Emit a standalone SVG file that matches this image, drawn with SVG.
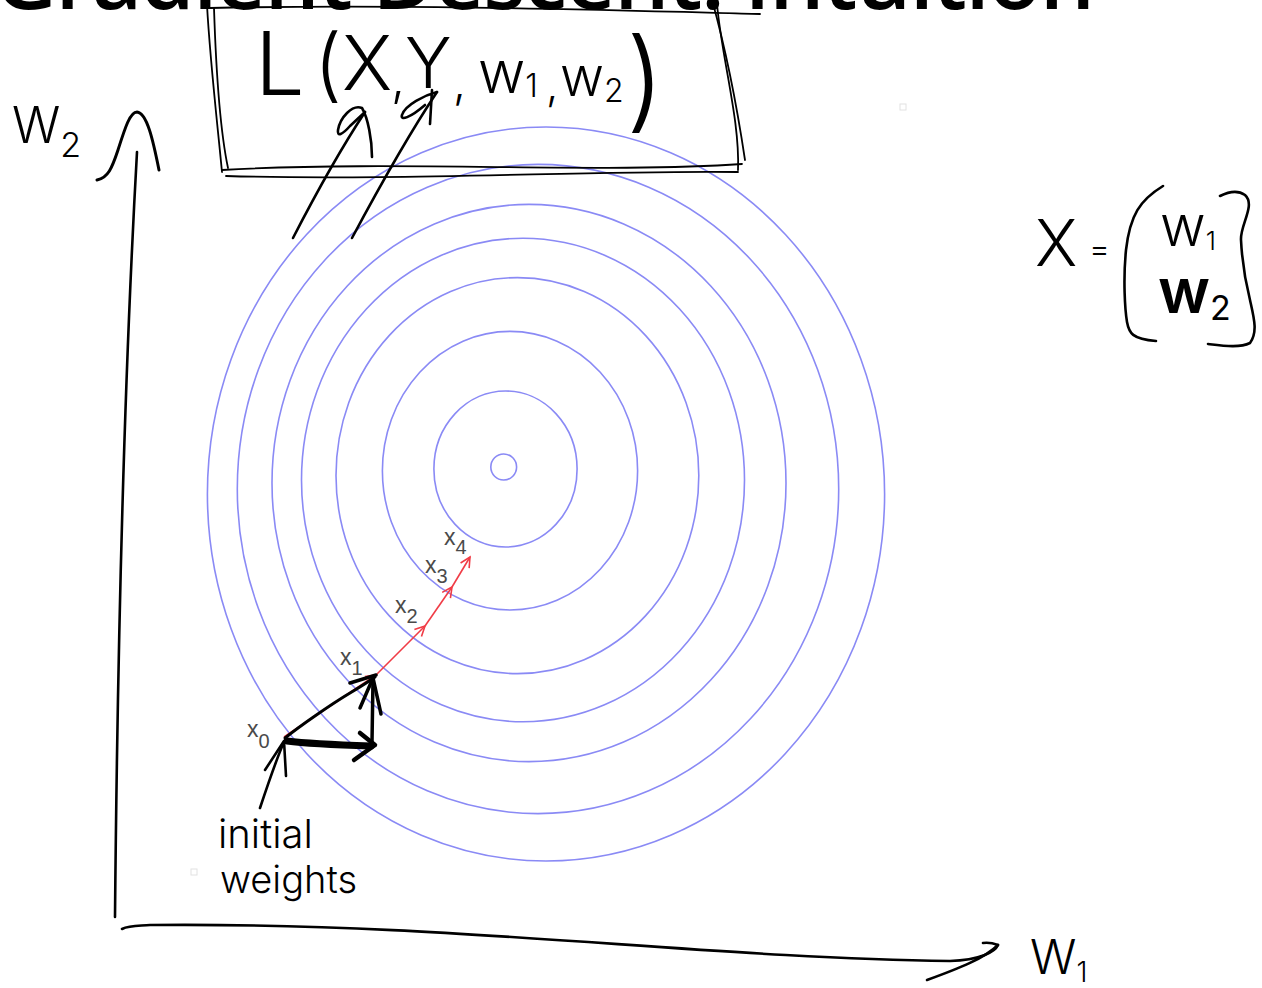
<svg xmlns="http://www.w3.org/2000/svg" width="1262" height="988" viewBox="0 0 1262 988">
<style>
.contour{fill:none;stroke:#8a8af5;stroke-width:1.6}
.ink{fill:none;stroke:#000;stroke-width:2.6;stroke-linecap:round;stroke-linejoin:round}
.thin{fill:none;stroke:#000;stroke-width:1.8;stroke-linecap:round;stroke-linejoin:round}
.hand{font-family:Inter,"Liberation Sans",sans-serif;font-weight:300;fill:#000}
.lbl{font-family:"Liberation Sans",Arial,sans-serif;fill:#4a4a4a}
.red{fill:none;stroke:#f03c46;stroke-width:1.6}
.dot{fill:none;stroke:#e2e2e2;stroke-width:1}
.title{font-family:"Open Sans","Noto Sans",sans-serif;font-weight:600;fill:#000}
</style>
<defs>
<marker id="rh" markerUnits="userSpaceOnUse" markerWidth="14" markerHeight="14" refX="11" refY="6" orient="auto">
<path d="M1,1 L11,6 L1,11" fill="none" stroke="#f03c46" stroke-width="1.6"/>
</marker>
</defs>
<rect width="1262" height="988" fill="#fff"/>

<g id="title">
<text class="title" x="-6" y="9" font-size="87" textLength="1101">Gradient Descent: Intuition</text>
</g>

<g id="contours">
<ellipse class="contour" cx="503.7" cy="467" rx="12.9" ry="13"/>
<ellipse class="contour" cx="505.5" cy="469" rx="71.6" ry="78"/>
<ellipse class="contour" cx="510" cy="470.7" rx="127.6" ry="139.3"/>
<ellipse class="contour" cx="517.4" cy="475.6" rx="181.4" ry="198"/>
<ellipse class="contour" cx="523" cy="480" rx="221.5" ry="241.8"/>
<ellipse class="contour" cx="529" cy="483" rx="257" ry="278.6"/>
<ellipse class="contour" cx="538" cy="489" rx="300.7" ry="324.6"/>
<ellipse class="contour" cx="546" cy="494" rx="338.6" ry="367"/>
</g>

<g id="loss-box">
<path class="thin" d="M207 5 C210 60,217 120,222 172"/>
<path class="thin" d="M214 8 C216 70,220 130,228 168"/>
<path class="thin" d="M210 8 C400 4,600 10,760 14"/>
<path class="thin" d="M222 170 C400 160,600 174,742 164"/>
<path class="thin" d="M226 176 C400 181,600 170,738 172"/>
<path class="thin" d="M712 0 C726 50,736 100,745 160"/>
<path class="thin" d="M717 4 C722 60,740 120,738 170"/>
<text class="hand" x="255" y="95" font-size="88">L</text>
<text class="hand" x="314" y="92" font-size="80">(</text>
<text class="hand" x="342" y="90" font-size="76">X</text>
<text class="hand" x="391" y="96" font-size="50">,</text>
<text class="hand" x="405" y="88" font-size="70">Y</text>
<text class="hand" x="453" y="98" font-size="46">,</text>
<text class="hand" x="478" y="93" font-size="58">w<tspan font-size="32" dy="4">1</tspan></text>
<text class="hand" x="546" y="100" font-size="44">,</text>
<text class="hand" x="560" y="96" font-size="54">w<tspan font-size="32" dy="6">2</tspan></text>
<text class="hand" x="626" y="118" font-size="110">)</text>
</g>

<g id="box-pointers">
<path class="ink" d="M293 238 C310 205,340 150,365 112"/>
<path class="ink" d="M372 157 C372 140,368 118,362 108 C352 104,340 118,338 130 C337 137,342 135,350 126 L365 112"/>
<path class="ink" d="M352 238 C375 195,405 140,437 92"/>
<path class="ink" d="M437 92 C425 95,405 105,402 115 C400 121,410 118,425 105 M432 90 L430 124"/>
</g>

<g id="y-axis">
<path class="ink" d="M115 917 C117 700,122 420,137 152"/>
<path class="ink" style="stroke-width:3" d="M97 180 C108 178,112 168,118 150 C125 128,130 112,137 112 C147 113,153 140,159 170"/>
<text class="hand" x="12" y="143" font-size="50">W<tspan font-size="34" dy="14">2</tspan></text>
</g>

<g id="x-axis">
<path class="ink" d="M122 929 C130 925,140 926,150 925 C450 922,700 958,950 961 C980 960,995 952,998 945 C990 942,983 943,983 943"/>
<path class="ink" d="M998 945 C985 958,960 968,927 980"/>
<text class="hand" x="1030" y="974" font-size="48">W<tspan font-size="28" dy="8">1</tspan></text>
</g>

<g id="x-vector">
<text class="hand" x="1035" y="266" font-size="64">X</text>
<text class="hand" x="1089" y="260" font-size="32">=</text>
<path class="ink" d="M1163 186 C1140 200,1130 215,1126 250 C1123 280,1125 310,1127 322 C1129 333,1132 339,1156 341"/>
<path class="ink" d="M1220 196 C1228 192,1238 190,1245 195 C1256 205,1240 225,1241 240 C1242 260,1246 284,1250 300 C1254 318,1258 332,1250 343 C1240 348,1225 346,1208 344"/>
<text class="hand" x="1160" y="246" font-size="56">w<tspan font-size="26" dy="4">1</tspan></text>
<text class="hand" x="1158" y="313" font-size="62" style="font-weight:600">w<tspan font-size="34" dy="7" style="font-weight:400">2</tspan></text>
</g>

<g id="descent-path">
<path class="red" d="M284 737 L376 675" marker-end="url(#rh)"/>
<path class="red" d="M377 674 L425 626" marker-end="url(#rh)"/>
<path class="red" d="M425 626 L452 587" marker-end="url(#rh)"/>
<path class="red" d="M452 587 L470 557" marker-end="url(#rh)"/>
<text class="lbl" x="247" y="737" font-size="23">x<tspan font-size="20" dy="11">0</tspan></text>
<text class="lbl" x="340" y="665" font-size="23">x<tspan font-size="20" dy="10">1</tspan></text>
<text class="lbl" x="395" y="613" font-size="23">x<tspan font-size="20" dy="10">2</tspan></text>
<text class="lbl" x="425" y="573" font-size="23">x<tspan font-size="20" dy="10">3</tspan></text>
<text class="lbl" x="444" y="545" font-size="23">x<tspan font-size="20" dy="9">4</tspan></text>
</g>

<g id="step-decomposition">
<path class="ink" style="stroke-width:3" d="M285 738 C300 726,330 705,350 693 C360 687,368 682,375 677"/>
<path class="ink" style="stroke-width:3.5" d="M350 683 L376 675"/>
<path class="ink" style="stroke-width:3.5" d="M372 742 L373 680"/>
<path class="ink" style="stroke-width:3.5" d="M360 708 L373 678 L381 714"/>
<path class="ink" style="stroke-width:7" d="M287 741 C310 744,340 745,371 746"/>
<path class="ink" style="stroke-width:4.5" d="M360 733 L375 745 L354 760"/>
</g>

<g id="initial-weights">
<path class="ink" d="M260 808 C266 790,276 760,284 742"/>
<path class="ink" d="M265 770 L284 741 L286 776"/>
<text class="hand" x="218" y="848" font-size="40">initial</text>
<text class="hand" x="220" y="893" font-size="38">weights</text>
</g>

<g id="marks">
<rect class="dot" x="900" y="104" width="6" height="6"/>
<rect class="dot" x="191" y="869" width="6" height="6"/>
</g>
</svg>
